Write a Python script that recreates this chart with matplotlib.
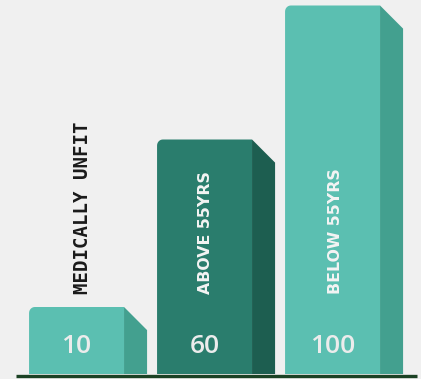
import numpy as np
import matplotlib
matplotlib.use("Agg")
import matplotlib.pyplot as plt
from matplotlib.patches import Polygon

labels = ["MEDICALLY UNFIT", "ABOVE 55YRS", "BELOW 55YRS"]
values = [10, 60, 100]
front_colors = ["#5bbfb1", "#2a7d6d", "#5bbfb1"]
side_colors = ["#43a08f", "#1d5e50", "#43a08f"]
label_colors = ["#1a1a1a", "#f4f4f4", "#f4f4f4"]

floor = -10          # bars rise from here
width = 0.742        # front face width (category units)
depth_x = 0.18       # side face depth
depth_y = 6.9        # side face drop at top
rx, ry = 0.045, 1.8  # top-left rounding

fig = plt.figure(figsize=(4.21, 3.79), dpi=100)
fig.patch.set_facecolor("#f0f0f0")
ax = fig.add_axes([0, 0, 1, 1])
ax.set_facecolor("#f0f0f0")
ax.set_xlim(-0.598, 2.691)
ax.set_ylim(-11.49, 101.64)
ax.axis("off")

for i, v in enumerate(values):
    x0, x1 = i - width / 2, i + width / 2
    top = v
    # front face with rounded top-left corner
    t = np.linspace(np.pi, np.pi / 2, 8)
    arc = np.column_stack([x0 + rx + rx * np.cos(t), top - ry + ry * np.sin(t)])
    pts = np.vstack([[x0, floor], arc, [x1, top], [x1, floor]])
    ax.add_patch(Polygon(pts, closed=True, facecolor=front_colors[i], edgecolor="none", zorder=2))
    # side face
    side = [[x1, top], [x1 + depth_x, top - depth_y], [x1 + depth_x, floor], [x1, floor]]
    ax.add_patch(Polygon(side, closed=True, facecolor=side_colors[i], edgecolor="none", zorder=2))
    # value
    ax.text(i, floor + 6.3, str(v), ha="center", va="baseline", fontsize=19,
            family="Open Sans", fontweight="semibold", color="#ececec", zorder=3)

# category labels, rotated
ax.text(0 + 0.047, 13.9, labels[0], rotation=90, ha="center", va="bottom",
        fontsize=13.7, family="DejaVu Sans Mono", fontweight="bold", color=label_colors[0])
ax.text(1.004, 13.9, labels[1], rotation=90, ha="center", va="bottom",
        fontsize=11.3, family="DejaVu Sans", fontweight="bold", color=label_colors[1])
ax.text(2.02, 13.9, labels[2], rotation=90, ha="center", va="bottom",
        fontsize=11.3, family="DejaVu Sans", fontweight="bold", color=label_colors[2])

# baseline
ax.plot([-0.47, 2.66], [floor - 0.45, floor - 0.45], color="#1b4224", lw=2.4,
        solid_capstyle="butt", zorder=4)

fig.savefig("out.png", dpi=100, facecolor=fig.get_facecolor())
